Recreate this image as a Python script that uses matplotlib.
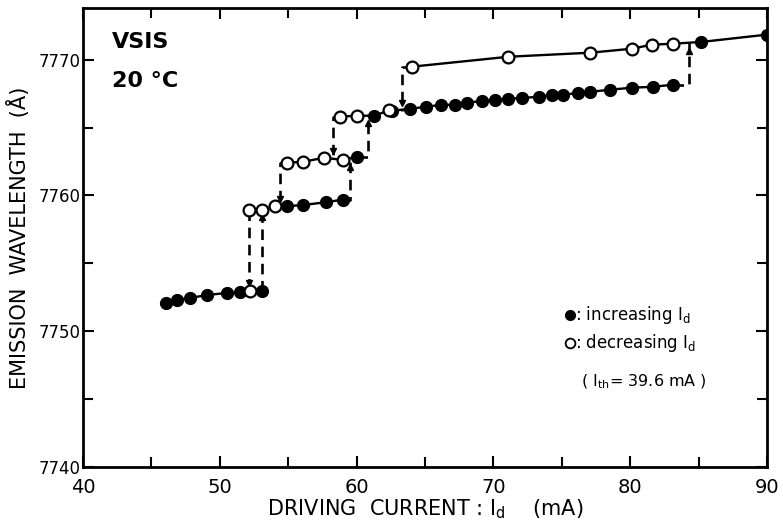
import numpy as np
import matplotlib
matplotlib.use("Agg")
import matplotlib.pyplot as plt
from matplotlib.ticker import MultipleLocator

# increasing Id (filled circles)
inc_x = [46.1, 46.9, 47.8, 49.1, 50.5, 51.5, 53.1,
         54.9, 56.1, 57.8, 59.0,
         60.0,
         61.3, 62.6, 63.9, 65.1, 66.2, 67.2, 68.1, 69.2, 70.1, 71.1, 72.1,
         73.3, 74.3, 75.1, 76.2, 77.1, 78.5, 80.1, 81.7, 83.1,
         85.2, 90.0]
inc_y = [7752.09, 7752.31, 7752.45, 7752.67, 7752.82, 7752.90, 7752.97,
         7759.20, 7759.30, 7759.50, 7759.70,
         7762.84,
         7765.87, 7766.23, 7766.38, 7766.53, 7766.67, 7766.67, 7766.82,
         7766.97, 7767.04, 7767.11, 7767.18, 7767.26, 7767.40, 7767.40,
         7767.56, 7767.63, 7767.78, 7767.93, 7768.00, 7768.15,
         7771.30, 7771.84]

# decreasing Id (open circles)
dec_x = [52.2, 52.1, 53.1, 54.0, 54.9, 56.1, 57.6, 59.0, 58.8, 60.0, 62.4,
         64.05, 71.1, 77.1, 80.1, 81.6, 83.1]
dec_y = [7752.95, 7758.90, 7758.94, 7759.20, 7762.40, 7762.48, 7762.77,
         7762.62, 7765.80, 7765.87, 7766.28, 7769.48, 7770.21, 7770.51,
         7770.80, 7771.10, 7771.17]

# mode hops: (last point x, jump x, start wavelength, end wavelength)
inc_jumps = [(53.1, 53.1, 7752.97, 7758.94),
             (59.0, 59.5, 7759.70, 7762.62),
             (60.0, 60.8, 7762.84, 7765.87),
             (83.1, 84.3, 7768.15, 7771.20)]
dec_jumps = [(64.05, 63.3, 7769.48, 7766.25),
             (58.8, 58.3, 7765.80, 7762.75),
             (54.9, 54.4, 7762.40, 7759.20),
             (52.1, 52.1, 7758.90, 7752.97)]

level_edges = [7755, 7761, 7764, 7769]

plt.rcParams["font.family"] = "DejaVu Sans"

fig = plt.figure(figsize=(7.83, 5.26), dpi=100)
ax = fig.add_axes([0.106, 0.112, 0.8735, 0.8728])

# solid lines through each mode level
all_x = np.array(inc_x + dec_x)
all_y = np.array(inc_y + dec_y)
lev = np.digitize(all_y, level_edges)
for k in np.unique(lev):
    m = lev == k
    order = np.argsort(all_x[m])
    ax.plot(all_x[m][order], all_y[m][order], color="black", lw=1.7, zorder=2)

# dashed mode-hop paths with small arrowheads
for x0, xj, y0, y1 in inc_jumps + dec_jumps:
    ax.plot([x0, xj, xj], [y0, y0, y1], color="black", lw=1.9,
            ls=(0, (4, 2.5)), zorder=1)
    up = y1 > y0
    ax.plot(xj, y1 - (0.55 if up else -0.55), marker="^" if up else "v",
            ms=4.5, color="black", zorder=1)

ax.plot(inc_x, inc_y, "o", ms=8.5, mfc="black", mec="black", zorder=3)
ax.plot(dec_x, dec_y, "o", ms=8.5, mfc="white", mec="black", mew=1.6,
        zorder=4)

ax.set_xlim(40, 90)
ax.set_ylim(7740, 7773.8)
ax.xaxis.set_major_locator(MultipleLocator(10))
ax.xaxis.set_minor_locator(MultipleLocator(5))
ax.yaxis.set_major_locator(MultipleLocator(10))
ax.yaxis.set_minor_locator(MultipleLocator(5))
ax.tick_params(which="both", direction="in", top=True, right=True,
               width=1.5, labelsize=14, color="black")
ax.tick_params(which="major", length=8)
ax.tick_params(which="minor", length=7)
ax.tick_params(axis="y", labelsize=12, pad=2)
ax.tick_params(axis="x", pad=8)
fig.canvas.draw()
ax.get_yticklabels()[0].set_verticalalignment("bottom")
for s in ax.spines.values():
    s.set_linewidth(2)

ax.set_xlabel(r"DRIVING  CURRENT : $\mathregular{I_d}$    (mA)", fontsize=15,
              labelpad=0)
ax.set_ylabel("EMISSION  WAVELENGTH  (Å)", fontsize=15, labelpad=6)

ax.text(42.1, 7771.3, "VSIS", fontsize=16, fontweight="bold", va="center")
ax.text(42.1, 7768.4, "20 °C", fontsize=16, fontweight="bold", va="center")

ax.plot(75.6, 7751.2, "o", ms=7, mfc="black", mec="black")
ax.text(76.0, 7751.2, r": increasing $\mathregular{I_d}$", fontsize=12,
        va="center")
ax.plot(75.6, 7749.1, "o", ms=7, mfc="white", mec="black", mew=1.3)
ax.text(76.0, 7749.1, r": decreasing $\mathregular{I_d}$", fontsize=12,
        va="center")
ax.text(76.4, 7746.3, r"( $\mathregular{I_{th}}$= 39.6 mA )", fontsize=11.5,
        va="center")

fig.savefig("out.png", dpi=100)
